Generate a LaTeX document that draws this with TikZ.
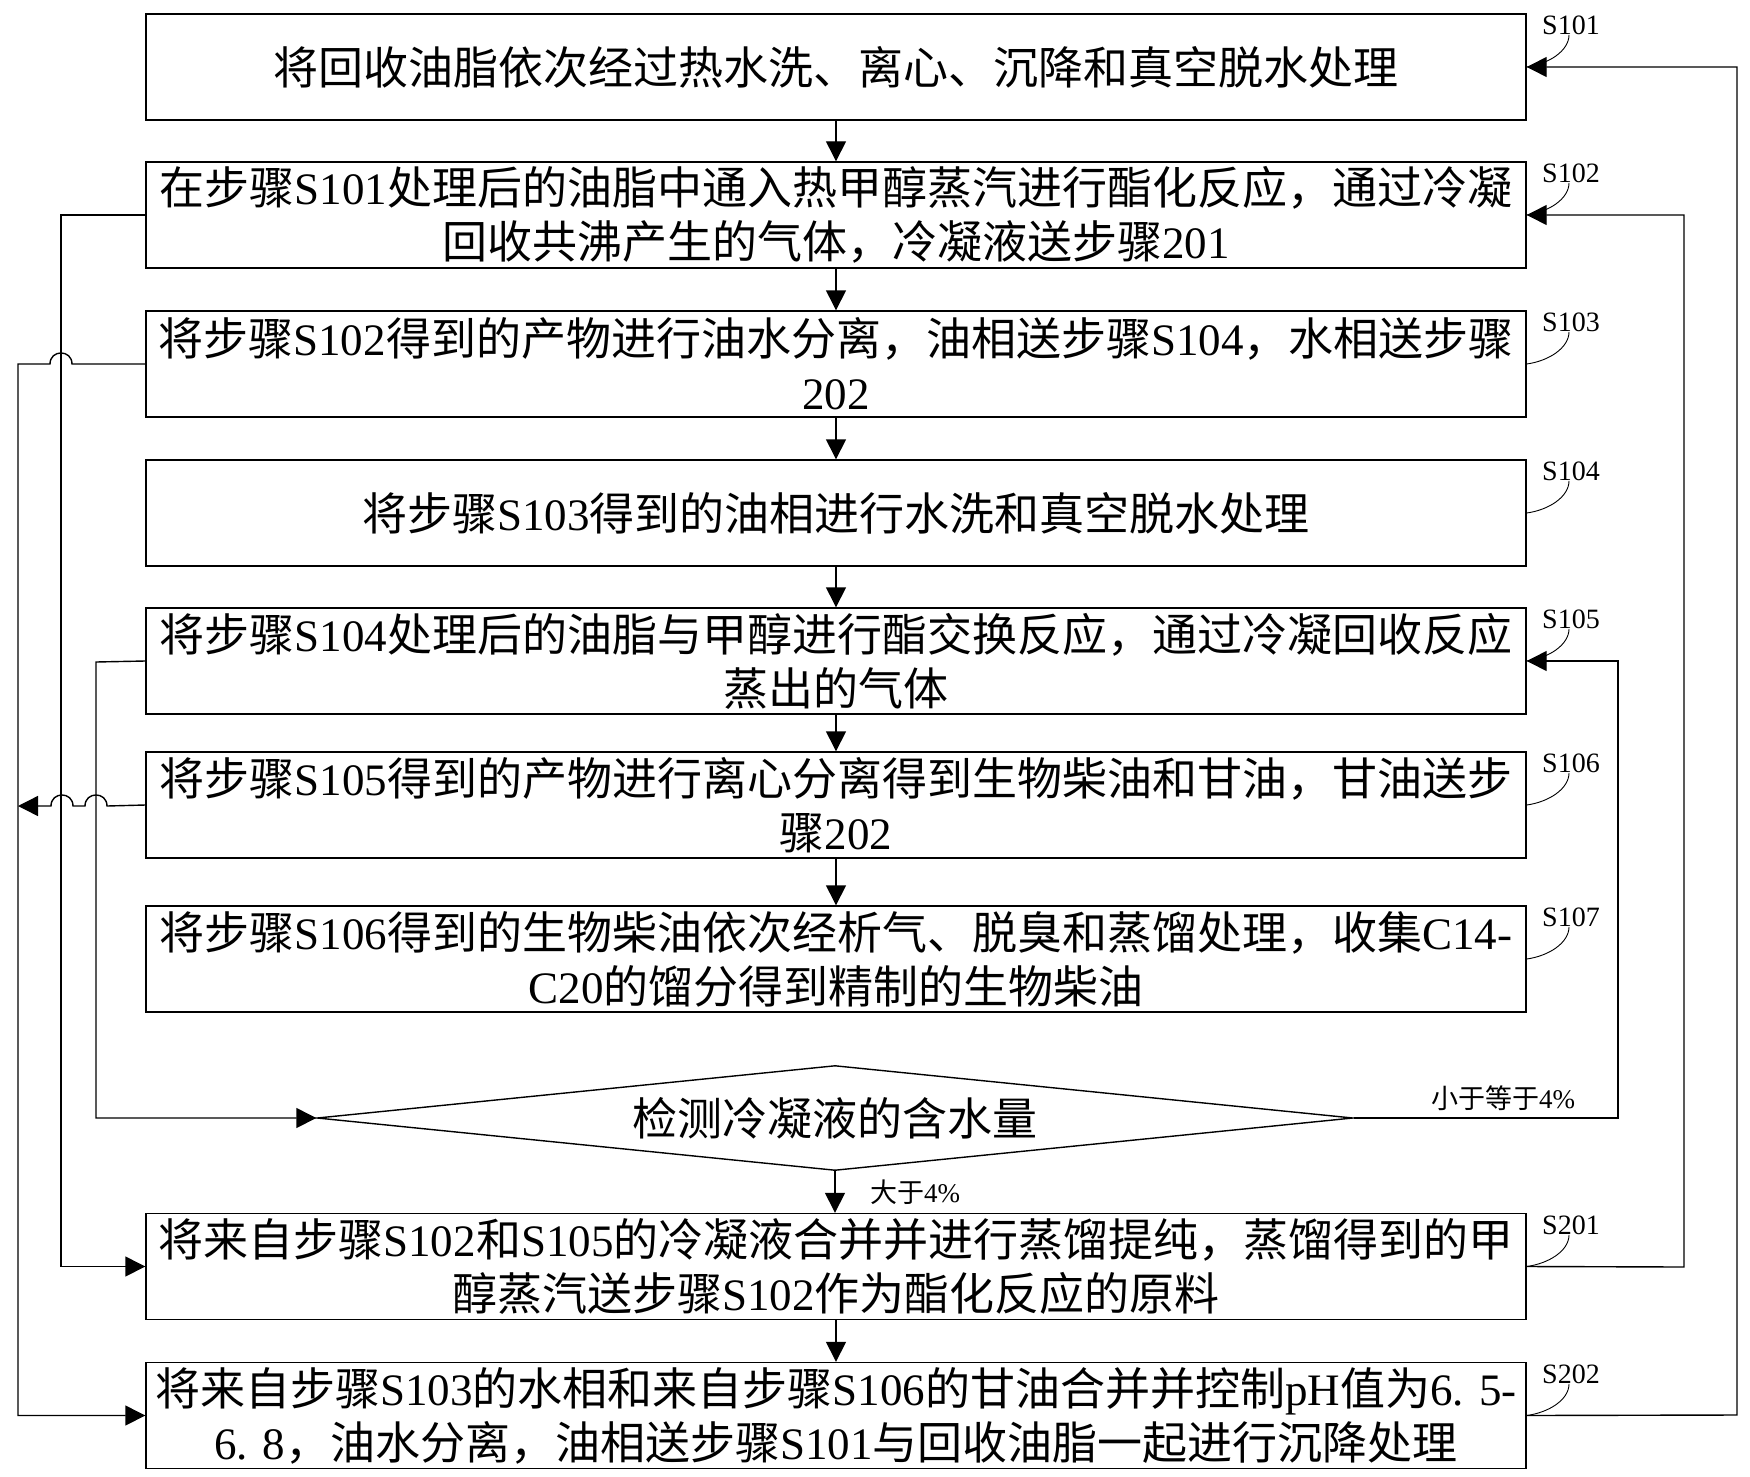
\documentclass[tikz,border=0pt]{standalone}
\usepackage{fontspec}
\setmainfont{Noto Sans CJK SC}
\newfontfamily\latfont{Liberation Serif}
\newcommand\latn[1]{{\latfont #1}}
\usetikzlibrary{arrows.meta,shapes.geometric}
\begin{document}
\begin{tikzpicture}[x=0.5pt,y=-0.5pt,
  box/.style={draw, line width=0.7pt, minimum width=690pt, minimum height=53pt,
    inner sep=0pt, align=center, font=\fontsize{22.5}{27}\selectfont},
  dia/.style={draw, diamond, aspect=9.87, line width=0.7pt, minimum width=518pt,
    minimum height=52.5pt, inner sep=0pt, font=\fontsize{22.5}{27}\selectfont},
  steplab/.style={inner sep=0pt, font=\latfont\fontsize{14}{16}\selectfont},
  condlab/.style={inner sep=0pt, font=\fontsize{13.5}{16}\selectfont},
  arr/.style={line width=0.7pt, -{Triangle[length=10pt,width=10pt]}},
  conn/.style={line width=0.7pt},
  leader/.style={line width=0.45pt}]
\useasboundingbox (0,0) rectangle (1750,1477);
\fill[white] (0,0) rectangle (1750,1477);

% boxes
\node[box] (s101) at (836,67) {将回收油脂依次经过热水洗、离心、沉降和真空脱水处理};
\node[box] (s102) at (836,215) {在步骤\latn{S101}处理后的油脂中通入热甲醇蒸汽进行酯化反应，通过冷凝\\回收共沸产生的气体，冷凝液送步骤\latn{201}};
\node[box] (s103) at (836,364) {将步骤\latn{S102}得到的产物进行油水分离，油相送步骤\latn{S104}，水相送步骤\\\latn{202}};
\node[box] (s104) at (836,513) {将步骤\latn{S103}得到的油相进行水洗和真空脱水处理};
\node[box] (s105) at (836,661) {将步骤\latn{S104}处理后的油脂与甲醇进行酯交换反应，通过冷凝回收反应\\蒸出的气体};
\node[box] (s106) at (836,805) {将步骤\latn{S105}得到的产物进行离心分离得到生物柴油和甘油，甘油送步\\骤\latn{202}};
\node[box] (s107) at (836,959) {将步骤\latn{S106}得到的生物柴油依次经析气、脱臭和蒸馏处理，收集\latn{C14-}\\\latn{C20}的馏分得到精制的生物柴油};
\node[dia] (d) at (835,1118) {检测冷凝液的含水量};
\node[box] (s201) at (836,1266.5) {将来自步骤\latn{S102}和\latn{S105}的冷凝液合并并进行蒸馏提纯，蒸馏得到的甲\\醇蒸汽送步骤\latn{S102}作为酯化反应的原料};
\node[box] (s202) at (836,1415.5) {将来自步骤\latn{S103}的水相和来自步骤\latn{S106}的甘油合并并控制\latn{pH}值为\latn{6. 5-}\\\latn{6. 8}，油水分离，油相送步骤\latn{S101}与回收油脂一起进行沉降处理};

% step labels
\node[steplab] (l101) at (1571,25) {S101};
\node[steplab] (l102) at (1571,173) {S102};
\node[steplab] (l103) at (1571,322) {S103};
\node[steplab] (l104) at (1571,471) {S104};
\node[steplab] (l105) at (1571,619) {S105};
\node[steplab] (l106) at (1571,763) {S106};
\node[steplab] (l107) at (1571,917) {S107};
\node[steplab] (l201) at (1571,1225) {S201};
\node[steplab] (l202) at (1571,1374) {S202};
\foreach \n in {101,102,103,104,105,106,107,201,202}{
  \draw[leader] ([xshift=-1pt]l\n.south) .. controls +(0,16) and +(22,-3) .. (s\n.east);
}

% condition labels
\node[condlab] (c1) at (1503,1098) {小于等于\latn{4\%}};
\node[condlab] (c2) at (915,1192) {大于\latn{4\%}};

% main flow
\draw[arr] (s101) -- (s102);
\draw[arr] (s102) -- (s103);
\draw[arr] (s103) -- (s104);
\draw[arr] (s104) -- (s105);
\draw[arr] (s105) -- (s106);
\draw[arr] (s106) -- (s107);
\draw[arr] (d.south) -- (d.south |- s201.north);
\draw[arr] (s201) -- (s202);

% left side
\coordinate (k102) at (61,215);
\coordinate (k105) at (96,662);
\draw[arr] (s102.west) -- (k102) |- (s201.west);
\draw[arr] (s105.west) -- (k105) |- (d.west);
\draw[arr] (s103.west) -- (72,364) .. controls (72,349.3) and (50,349.3) .. (50,364)
  -- (18,364) |- (s202.west);
\draw[arr] (s106.west) -- (107,806) .. controls (107,791.3) and (85,791.3) .. (85,806)
  -- (73,806) .. controls (73,791.3) and (51,791.3) .. (51,806) -- (18,806);

% right side
\coordinate (k1) at (1618,1118);
\coordinate (k2) at (1684,1267);
\coordinate (k3) at (1737,1415);
\draw[arr] (d.east) -- (k1) |- (s105.east);
\draw[arr] (s201.east) -- (k2) |- (s102.east);
\draw[arr] (s202.east) -- (k3) |- (s101.east);
\end{tikzpicture}
\end{document}
